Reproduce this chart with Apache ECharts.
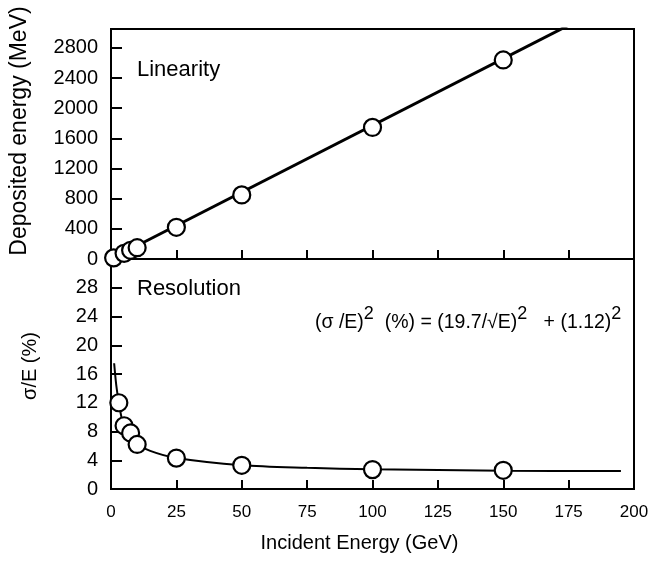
<!DOCTYPE html>
<html lang="en">
<head>
    <meta charset="UTF-8">
    <title>Linearity and Resolution</title>
    <script src="https://cdn.jsdelivr.net/npm/echarts@6/dist/echarts.min.js"></script>
    <style>
        html, body { margin: 0; padding: 0; background: #fff; }
        #chart { width: 653px; height: 567px; }
    </style>
</head>
<body>
    <div id="chart"></div>

    <script>
        // linearity points: incident energy (GeV) and deposited energy (MeV)
        const linEnergies = [1, 5, 7.5, 10, 25, 50, 100, 150];
        const deposited = [15, 75, 115, 150, 420, 850, 1745, 2640];

        // resolution points: incident energy (GeV) and sigma/E (%)
        const resEnergies = [3, 5, 7.5, 10, 25, 50, 100, 150];
        const resolution = [12.0, 8.8, 7.8, 6.2, 4.3, 3.3, 2.7, 2.6];

        // straight fit line of the top panel
        const fitLineE = [0, 175];
        const fitLineDep = [0, 3100];

        // fitted resolution curve
        const curveE = [1.2, 2, 3, 4, 5, 7.5, 10, 15, 25, 50, 75, 100, 150, 195];
        const curveRes = [17.5, 14.5, 12.0, 10.0, 8.8, 7.6, 6.3, 5.3, 4.3, 3.3, 2.95, 2.75, 2.55, 2.5];

        const xTicks = { min: 0, max: 200, interval: 25 };

        const pairs = (xs, ys) => xs.map((x, i) => [x, ys[i]]);

        const font = 'Liberation Sans, Arial, Helvetica, sans-serif';
        const ink = '#000';

        const pointStyle = {
            symbol: 'circle',
            symbolSize: 17,
            itemStyle: { color: '#fff', borderColor: ink, borderWidth: 2.2, opacity: 1 }
        };

        const option = {
            backgroundColor: '#fff',
            animation: false,
            textStyle: { fontFamily: font, color: ink },
            grid: [
                { left: 111, right: 19, top: 29, height: 230, show: true, borderColor: ink, borderWidth: 2 },
                { left: 111, right: 19, top: 259, height: 230, show: true, borderColor: ink, borderWidth: 2 }
            ],
            xAxis: [
                {
                    gridIndex: 0, type: 'value', ...xTicks,
                    axisLine: { lineStyle: { color: ink, width: 2 } },
                    axisTick: { inside: true, length: 9, lineStyle: { color: ink, width: 2 } },
                    axisLabel: { show: false },
                    splitLine: { show: false }
                },
                {
                    gridIndex: 1, type: 'value', ...xTicks,
                    axisLine: { lineStyle: { color: ink, width: 2 } },
                    axisTick: { inside: true, length: 9, lineStyle: { color: ink, width: 2 } },
                    axisLabel: { color: ink, fontSize: 17, fontFamily: font, margin: 15 },
                    splitLine: { show: false },
                    name: 'Incident Energy (GeV)',
                    nameLocation: 'middle',
                    nameGap: 44,
                    nameTextStyle: { color: ink, fontSize: 20, fontFamily: font, padding: [0, 26, 0, 0] }
                }
            ],
            yAxis: [
                {
                    gridIndex: 0, type: 'value', min: 0, max: 3050, interval: 400,
                    axisLine: { lineStyle: { color: ink, width: 2 } },
                    axisTick: { inside: true, length: 11, lineStyle: { color: ink, width: 2 } },
                    axisLabel: {
                        color: ink, fontSize: 20, fontFamily: font, margin: 13,
                        showMaxLabel: false, formatter: v => String(v)
                    },
                    splitLine: { show: false }
                },
                {
                    gridIndex: 1, type: 'value', min: 0, max: 32, interval: 4,
                    axisLine: { lineStyle: { color: ink, width: 2 } },
                    axisTick: { inside: true, length: 11, lineStyle: { color: ink, width: 2 } },
                    axisLabel: { color: ink, fontSize: 20, fontFamily: font, margin: 13, showMaxLabel: false },
                    splitLine: { show: false }
                }
            ],
            series: [
                {
                    type: 'line', xAxisIndex: 0, yAxisIndex: 0,
                    data: pairs(fitLineE, fitLineDep),
                    showSymbol: false, clip: true,
                    lineStyle: { color: ink, width: 3 }, z: 2
                },
                {
                    type: 'scatter', xAxisIndex: 0, yAxisIndex: 0,
                    data: pairs(linEnergies, deposited), z: 3, ...pointStyle
                },
                {
                    type: 'line', xAxisIndex: 1, yAxisIndex: 1,
                    data: pairs(curveE, curveRes),
                    smooth: 0.3, showSymbol: false, clip: true,
                    lineStyle: { color: ink, width: 2 }, z: 2
                },
                {
                    type: 'scatter', xAxisIndex: 1, yAxisIndex: 1,
                    data: pairs(resEnergies, resolution), z: 3, ...pointStyle
                }
            ],
            graphic: [
                {
                    type: 'text', left: 137, top: 59,
                    style: { text: 'Linearity', fontSize: 22, fontFamily: font, fill: ink }
                },
                {
                    type: 'text', left: 137, top: 278,
                    style: { text: 'Resolution', fontSize: 22, fontFamily: font, fill: ink }
                },
                {
                    type: 'text', left: 315, top: 305,
                    style: {
                        text: '{n|(σ /E)}{s|2}{n|  (%) = (19.7/√E)}{s|2}{n|   + (1.12)}{s|2}',
                        fontFamily: font, fill: ink,
                        rich: {
                            n: { fontSize: 19.5, fontFamily: font, lineHeight: 22, verticalAlign: 'bottom' },
                            s: { fontSize: 18, fontFamily: font, lineHeight: 20, padding: [0, 0, 16, 0] }
                        }
                    }
                },
                {
                    type: 'text', x: 20, y: 131, rotation: Math.PI / 2,
                    style: {
                        text: 'Deposited energy (MeV)', fontSize: 23, fontFamily: font, fill: ink,
                        align: 'center', verticalAlign: 'middle'
                    }
                },
                {
                    type: 'text', x: 30, y: 366, rotation: Math.PI / 2,
                    style: {
                        text: 'σ/E (%)', fontSize: 20, fontFamily: font, fill: ink,
                        align: 'center', verticalAlign: 'middle'
                    }
                }
            ]
        };

        const chart = echarts.init(document.getElementById('chart'));
        chart.setOption(option);
    </script>
</body>
</html>
